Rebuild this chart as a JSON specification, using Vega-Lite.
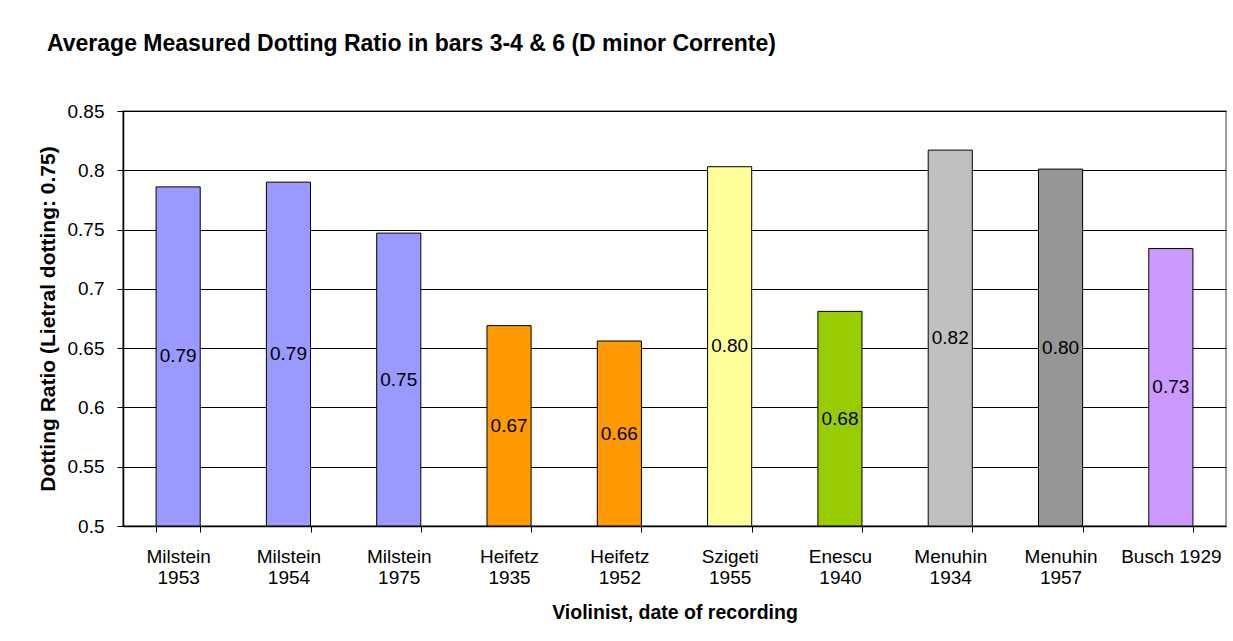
{
  "$schema": "https://vega.github.io/schema/vega-lite/v6.json",
  "width": 1103,
  "height": 415,
  "autosize": {"type": "none"},
  "padding": {"left": 123, "top": 111, "right": 7, "bottom": 115},
  "background": "white",
  "config": {
    "font": "Liberation Sans",
    "view": {"stroke": "#808080", "strokeWidth": 1.5},
    "axis": {"labelFont": "Liberation Sans", "titleFont": "Liberation Sans"}
  },
  "title": {
    "text": "Average Measured Dotting Ratio in bars 3-4 & 6 (D minor Corrente)",
    "anchor": "start",
    "frame": "group",
    "dx": -76,
    "offset": 46,
    "font": "Liberation Sans",
    "fontSize": 23,
    "fontWeight": "bold",
    "color": "black"
  },
  "data": {
    "values": [
      {"name": "Milstein\n1953", "ratio": 0.786},
      {"name": "Milstein\n1954", "ratio": 0.790},
      {"name": "Milstein\n1975", "ratio": 0.747},
      {"name": "Heifetz\n1935", "ratio": 0.669},
      {"name": "Heifetz\n1952", "ratio": 0.656},
      {"name": "Szigeti\n1955", "ratio": 0.803},
      {"name": "Enescu\n1940", "ratio": 0.681},
      {"name": "Menuhin\n1934", "ratio": 0.817},
      {"name": "Menuhin\n1957", "ratio": 0.801},
      {"name": "Busch 1929", "ratio": 0.734}
    ]
  },
  "transform": [{"calculate": "(datum.ratio + 0.5) / 2", "as": "mid"}],
  "encoding": {
    "x": {
      "field": "name",
      "type": "nominal",
      "sort": null,
      "scale": {"paddingInner": 0.6, "paddingOuter": 0.3},
      "axis": {
        "title": "Violinist, date of recording",
        "titleFontSize": 19.5,
        "titleFontWeight": "bold",
        "titleColor": "black",
        "titlePadding": 16,
        "labelAngle": 0,
        "labelFontSize": 19,
        "labelColor": "black",
        "labelLineHeight": 21.5,
        "labelPadding": 15,
        "labelExpr": "datum.value ? split(datum.value, '\\n') : ''",
        "tickBand": "extent",
        "tickColor": "black",
        "tickSize": 6,
        "domainColor": "black",
        "domainWidth": 1.5
      }
    }
  },
  "layer": [
    {
      "mark": {"type": "bar", "stroke": "black", "strokeWidth": 1},
      "encoding": {
        "y": {
          "field": "ratio",
          "type": "quantitative",
          "scale": {"domain": [0.5, 0.85], "zero": false, "nice": false},
          "axis": {
            "title": "Dotting Ratio (Lietral dotting: 0.75)",
            "titleFontSize": 21,
            "titleFontWeight": "bold",
            "titleColor": "black",
            "titlePadding": 9,
            "values": [0.5, 0.55, 0.6, 0.65, 0.7, 0.75, 0.8, 0.85],
            "format": ".2~f",
            "labelFontSize": 19,
            "labelColor": "black",
            "labelPadding": 13,
            "tickColor": "black",
            "tickSize": 6,
            "domainColor": "black",
            "domainWidth": 1.5,
            "grid": true,
            "gridColor": "black",
            "gridWidth": 1,
            "gridOpacity": 1
          }
        },
        "y2": {"datum": 0.5},
        "color": {
          "field": "name",
          "type": "nominal",
          "sort": null,
          "legend": null,
          "scale": {
            "range": ["#9999FF", "#9999FF", "#9999FF", "#FF9900", "#FF9900", "#FFFF99", "#99CC00", "#C0C0C0", "#969696", "#CC99FF"]
          }
        }
      }
    },
    {
      "mark": {"type": "text", "fontSize": 19, "color": "black", "baseline": "middle", "align": "center"},
      "encoding": {
        "y": {"field": "mid", "type": "quantitative"},
        "text": {"field": "ratio", "type": "quantitative", "format": ".2f"}
      }
    }
  ]
}
